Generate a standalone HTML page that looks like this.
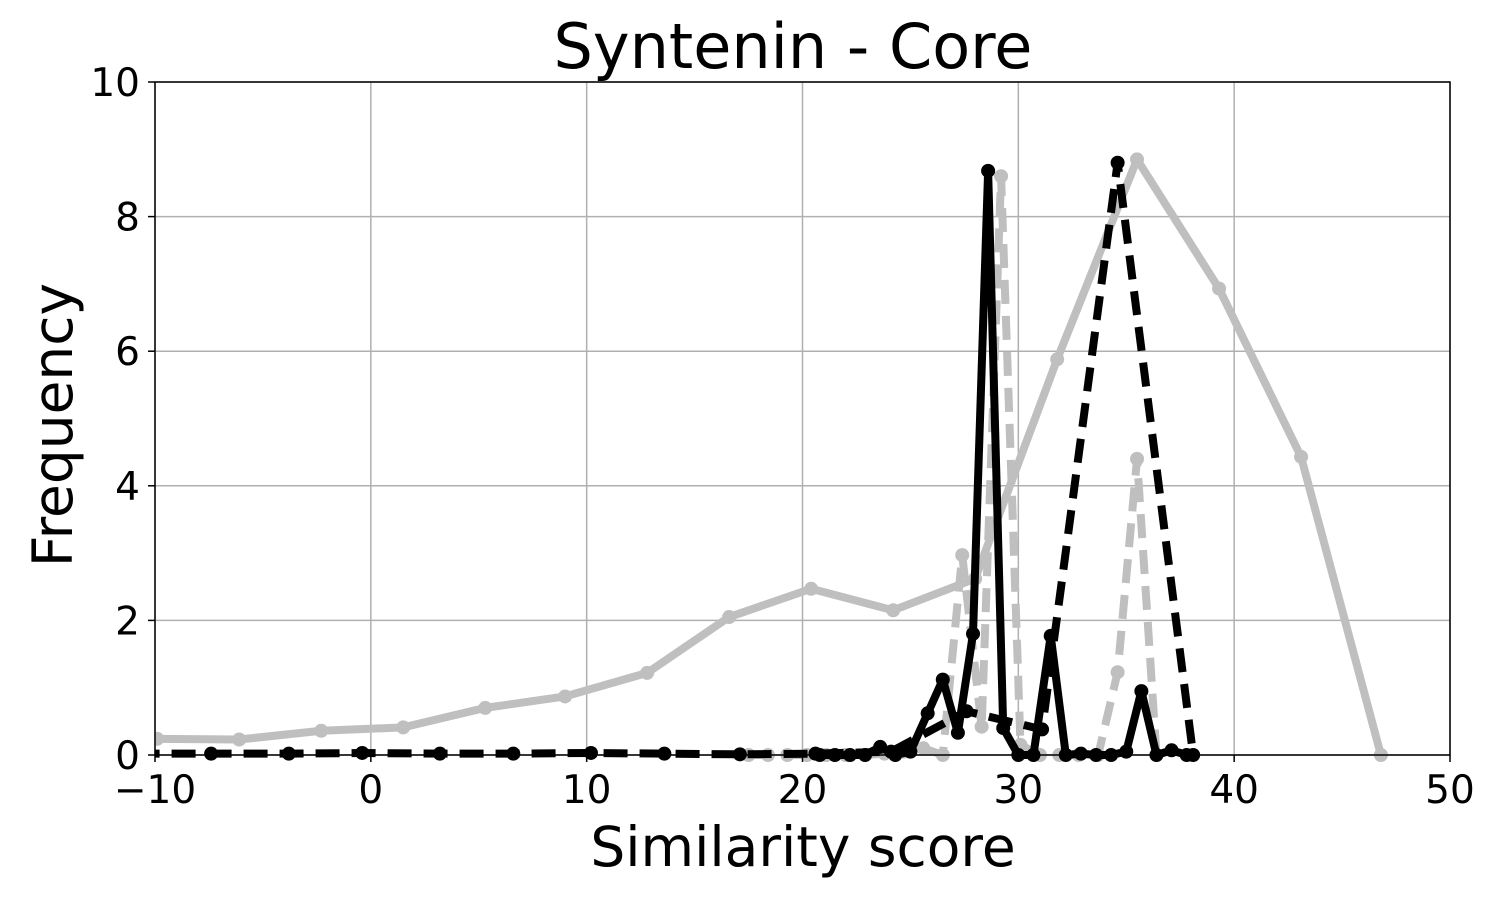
<!DOCTYPE html>
<html><head><meta charset="utf-8"><style>
body{margin:0;background:#fff}
svg text{font-family:"DejaVu Sans","Liberation Sans",sans-serif}
</style></head><body>
<svg id="chart" width="1500" height="900" xmlns="http://www.w3.org/2000/svg">
<g id="grid"></g>
<g id="series"></g>
<rect x="155" y="82" width="1295" height="673" fill="none" stroke="#000" stroke-width="1.5"/>
<g id="ticks"></g>
<text x="793" y="68" font-size="62" text-anchor="middle">Syntenin - Core</text>
<text x="803" y="866" font-size="55" text-anchor="middle">Similarity score</text>
<text transform="translate(72,425) rotate(-90)" font-size="55" text-anchor="middle">Frequency</text>
</svg>
<script>
const xTicks=[-10,0,10,20,30,40,50];
const yTicks=[0,2,4,6,8,10];
const graySolidX=[-9.9,-6.1,-2.3,1.5,5.3,9.0,12.8,16.6,20.4,24.2,28.0,31.8,35.5,39.3,43.1,46.8];
const graySolidY=[0.24,0.23,0.36,0.41,0.70,0.87,1.22,2.05,2.47,2.15,2.62,5.88,8.85,6.93,4.43,0];
const blackDashX=[-10.9,-7.4,-3.8,-0.4,3.2,6.6,10.2,13.6,17.1,20.6,24.1,27.6,31.1,34.6,38.1];
const blackDashY=[0.02,0.02,0.02,0.03,0.02,0.02,0.03,0.02,0.01,0.02,0.05,0.65,0.38,8.8,0];
const blackSolidX=[20.8,21.5,22.2,22.9,23.6,24.3,25.0,25.8,26.5,27.2,27.9,28.6,29.3,30.0,30.7,31.5,32.2,32.9,33.6,34.3,35.0,35.7,36.4,37.1,37.8];
const blackSolidY=[0,0,0,0,0.12,0,0.05,0.62,1.12,0.33,1.8,8.68,0.4,0,0,1.77,0,0.02,0,0,0.05,0.95,0,0.07,0];
const grayDashX=[17.5,18.4,19.3,20.2,21.1,22.0,22.9,23.8,24.7,25.6,26.5,27.4,28.3,29.2,30.1,31.0,31.9,32.8,33.7,34.6,35.5,36.4];
const grayDashY=[0,0,0,0,0,0,0,0.02,0.05,0.1,0,2.97,0.42,8.6,0.15,0,0,0,0,1.23,4.4,0];
const NS="http://www.w3.org/2000/svg";
const sx=v=>155+(v+10)*1295/60, sy=v=>755-v*67.3;
const grid=document.getElementById('grid'),ticks=document.getElementById('ticks'),ser=document.getElementById('series');
function mk(tag,attrs,parent){const e=document.createElementNS(NS,tag);for(const k in attrs)e.setAttribute(k,attrs[k]);parent.appendChild(e);return e;}
xTicks.forEach(t=>{
 const g=mk('line',{x1:sx(t),x2:sx(t),y1:82,y2:755,stroke:'#b0b0b0','stroke-width':1.5},grid);
 
 
 const tk=mk('line',{x1:sx(t),x2:sx(t),y1:755,y2:762,stroke:'#000','stroke-width':1.5},ticks);
 
 
 const l=mk('text',{x:sx(t),y:803,'font-size':39,'text-anchor':'middle'},ticks);
 l.textContent=t<0?'\u2212'+(-t):t;
 
 
});
yTicks.forEach(t=>{
 const g=mk('line',{x1:155,x2:1450,y1:sy(t),y2:sy(t),stroke:'#b0b0b0','stroke-width':1.5},grid);
 
 
 const tk=mk('line',{x1:148,x2:155,y1:sy(t),y2:sy(t),stroke:'#000','stroke-width':1.5},ticks);
 
 
 const l=mk('text',{x:140,y:sy(t)+14,'font-size':39,'text-anchor':'end'},ticks);
 l.textContent=t;
 
 
});
function series(xs,ys,color,dash,name){
 const g=mk('g',{},ser);
 
 
 const pts=xs.map((x,i)=>sx(x)+','+sy(ys[i])).join(' ');
 const a={points:pts,fill:'none',stroke:color,'stroke-width':8,'stroke-linejoin':'round'};
 if(dash)a['stroke-dasharray']=dash;
 mk('polyline',a,g);
 xs.forEach((x,i)=>{
  if(x<-10)return;
  const c=mk('circle',{cx:sx(x),cy:sy(ys[i]),r:7,fill:color},g);
  
  
 });
}
const clip=mk('clipPath',{id:'pc'},document.getElementById('chart'));
mk('rect',{x:155,y:75,width:1295,height:690},clip);
ser.setAttribute('clip-path','url(#pc)');
series(graySolidX,graySolidY,'#bfbfbf',null,'gray-solid-series');
series(grayDashX,grayDashY,'#bfbfbf','24 12','gray-dashed-series');
series(blackDashX,blackDashY,'#000','24 12','black-dashed-series');
series(blackSolidX,blackSolidY,'#000',null,'black-solid-series');
</script>
</body></html>
